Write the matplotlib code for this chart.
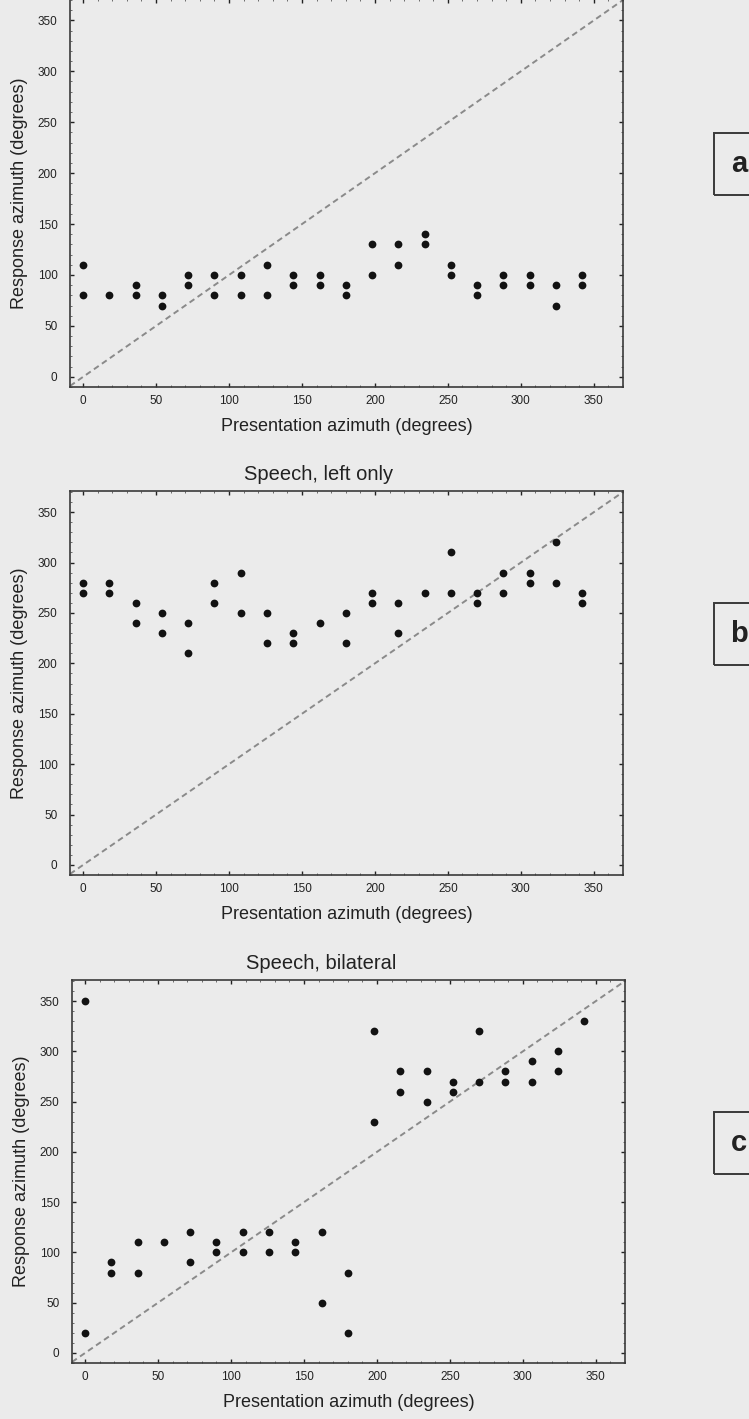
import matplotlib
matplotlib.use("Agg")
import matplotlib.pyplot as plt
from matplotlib.patches import Rectangle
from matplotlib.ticker import MultipleLocator

plt.rcParams['font.family'] = ['Liberation Sans', 'DejaVu Sans']

# ---------------- data ----------------
presentation_azimuth = [0, 18, 36, 54, 72, 90, 108, 126, 144, 162,
                        180, 198, 216, 234, 252, 270, 288, 306, 324, 342]

# panel a (title cut off at top of page)
responses_a = [[110, 80], [80], [90, 80], [80, 70], [100, 90],
               [100, 80], [100, 80], [110, 80], [100, 90], [100, 90],
               [90, 80], [130, 100], [130, 110], [140, 130], [110, 100],
               [90, 80], [100, 90], [100, 90], [90, 70], [100, 90]]

# panel b: Speech, left only
responses_b = [[280, 270], [280, 270], [260, 240], [250, 230], [240, 210],
               [280, 260], [290, 250], [250, 220], [230, 220], [240],
               [250, 220], [270, 260], [260, 230], [270], [310, 270],
               [270, 260], [290, 270], [290, 280], [320, 280], [270, 260]]

# panel c: Speech, bilateral
responses_c = [[350, 20], [90, 80], [110, 80], [110], [120, 90],
               [110, 100], [120, 100], [120, 100], [110, 100], [120, 50],
               [80, 20], [320, 230], [280, 260], [280, 250], [270, 260],
               [320, 270], [280, 270], [290, 270], [300, 280], [330]]

titles = [None, "Speech, left only", "Speech, bilateral"]
panel_letters = ["a", "b", "c"]
xlabel = "Presentation azimuth (degrees)"
ylabel = "Response azimuth (degrees)"
ticks = [0, 50, 100, 150, 200, 250, 300, 350]

# ---------------- layout ----------------
W, H = 749, 1419
bg = "#ebebeb"
ink = "#222222"
fig = plt.figure(figsize=(W / 100, H / 100), dpi=100, facecolor=bg)

# axes boxes in pixels: left, top, right, bottom
boxes = [(70, -1, 623, 387), (70, 491, 623, 875), (72, 980, 625, 1363)]
label_boxes = [(714, 133, 195), (714, 603, 665), (714, 1112, 1174)]

all_resp = [responses_a, responses_b, responses_c]

for i, (l, t, r, b) in enumerate(boxes):
    ax = fig.add_axes([l / W, 1 - b / H, (r - l) / W, (b - t) / H])
    ax.set_facecolor(bg)
    xs, ys = [], []
    for az, resp in zip(presentation_azimuth, all_resp[i]):
        for v in resp:
            xs.append(az)
            ys.append(v)
    ax.set_xlim(-9, 370)
    ax.set_ylim(-10, 371)
    ax.axline((0, 0), slope=1, color="#8a8a8a", lw=1.4,
              linestyle=(0, (3.0, 2.0)), zorder=1)
    ax.plot(xs, ys, 'o', color="#121212", markersize=5.6,
            markeredgewidth=0, zorder=3)
    ax.set_xticks(ticks)
    ax.set_yticks(ticks)
    ax.xaxis.set_minor_locator(MultipleLocator(10))
    ax.yaxis.set_minor_locator(MultipleLocator(10))
    ax.tick_params(which='major', direction='in', length=3, width=1.0,
                   colors=ink, top=True, right=True, labelsize=8.5)
    ax.tick_params(which='minor', direction='in', length=1.2, width=0.6,
                   colors="#555555", top=True, right=True)
    ax.tick_params(axis='y', which='major', pad=9)
    ax.tick_params(axis='x', which='major', pad=6)
    for s in ax.spines.values():
        s.set_color("#3a3a3a")
        s.set_linewidth(1.2)
    ax.set_xlabel(xlabel, fontsize=13, color=ink, labelpad=8)
    ax.set_ylabel(ylabel, fontsize=13, color=ink, labelpad=7)
    if titles[i]:
        ax.set_title(titles[i], fontsize=14.5, color=ink, x=0.45, pad=8)

    bx, by0, by1 = label_boxes[i]
    fig.patches.append(Rectangle((bx / W, 1 - by1 / H), (W + 10 - bx) / W,
                                 (by1 - by0) / H, transform=fig.transFigure,
                                 fill=False, edgecolor="#3a3a3a", lw=1.4))
    fig.text(739 / W, 1 - (by0 + by1) / 2 / H, panel_letters[i],
             fontsize=21, fontweight='bold', color=ink,
             ha='center', va='center')

fig.savefig("out.png", dpi=100, facecolor=bg)
